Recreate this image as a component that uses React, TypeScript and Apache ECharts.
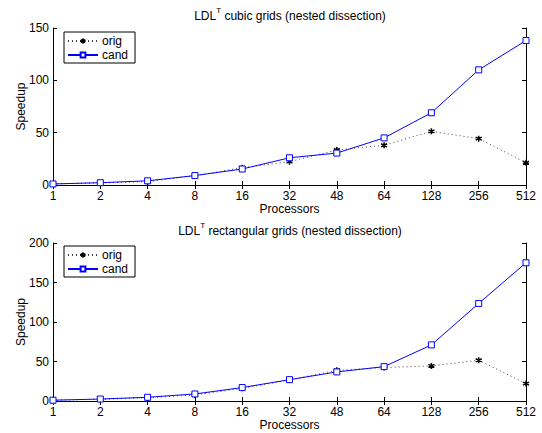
import React, { useEffect, useRef } from "react";
import * as echarts from "echarts";

const processors = ["1", "2", "4", "8", "16", "32", "48", "64", "128", "256", "512"];
const cubicOrig = [1, 2, 3.2, 9, 16.5, 22.3, 33.4, 38, 51.3, 44.3, 21.3];
const cubicCand = [1, 2.2, 4, 9, 15.3, 26, 30.5, 45, 69, 110, 138];
const rectOrig = [1, 2, 4.2, 7.6, 16, 26.6, 38.9, 42.3, 44.4, 51.6, 22];
const rectCand = [1, 2.5, 4.7, 8.9, 17, 27, 36.8, 43.5, 71, 123.5, 175];

const FONT = "Liberation Sans, Arial, Helvetica, sans-serif";
const ASTERISK = "path://M0,-5L0,5M-4.33,-2.5L4.33,2.5M-4.33,2.5L4.33,-2.5";

export default function App() {
  const ref = useRef<HTMLDivElement>(null);
  useEffect(() => {
    if (!ref.current) return;
    const chart = echarts.init(ref.current, undefined, { renderer: "svg" });
    const axisLine = { show: true, lineStyle: { color: "#000", width: 1 } };
    const tickIn = { show: true, inside: true, length: 4, lineStyle: { color: "#000" } };
    const label = { color: "#000", fontSize: 12, fontFamily: FONT };
    const xAxes: any[] = [];
    const yAxes: any[] = [];
    const maxes = [150, 200];
    [0, 1].forEach((g) => {
      xAxes.push({
        type: "category", gridIndex: g, data: processors, boundaryGap: false, position: "bottom",
        axisLine, axisTick: { ...tickIn, alignWithLabel: true }, axisLabel: { ...label, margin: 5, interval: 0 },
        splitLine: { show: false },
        name: "Processors", nameLocation: "middle", nameGap: 18,
        nameTextStyle: { color: "#000", fontSize: 12, fontFamily: FONT },
      });
      xAxes.push({
        type: "category", gridIndex: g, data: processors, boundaryGap: false, position: "top",
        axisLine, axisTick: { ...tickIn }, axisLabel: { show: false }, splitLine: { show: false },
      });
      yAxes.push({
        type: "value", gridIndex: g, min: 0, max: maxes[g], interval: 50, position: "left",
        axisLine, axisTick: tickIn, axisLabel: { ...label, margin: 4 }, splitLine: { show: false },
        name: "Speedup", nameLocation: "middle", nameGap: 26, nameMoveOverlap: false,
        nameTextStyle: { color: "#000", fontSize: 12, fontFamily: FONT },
      });
      yAxes.push({
        type: "value", gridIndex: g, min: 0, max: maxes[g], interval: 50, position: "right",
        axisLine, axisTick: tickIn, axisLabel: { show: false }, splitLine: { show: false },
      });
    });
    const origSeries = (data: number[], g: number) => ({
      name: "orig", type: "line", xAxisIndex: g * 2, yAxisIndex: g * 2, data,
      symbol: ASTERISK, symbolSize: 6,
      itemStyle: { color: "none", borderColor: "#000", borderWidth: 1.5 },
      lineStyle: { color: "#444", width: 1, type: [1, 3] },
      z: 2,
    });
    const candSeries = (data: number[], g: number) => ({
      name: "cand", type: "line", xAxisIndex: g * 2, yAxisIndex: g * 2, data,
      symbol: "rect", symbolSize: 6,
      itemStyle: { color: "#fff", borderColor: "#0000ff", borderWidth: 1 },
      lineStyle: { color: "#0000ff", width: 1 },
      z: 3,
    });
    const titleStyle = {
      rich: {
        a: { fontSize: 12, fontFamily: FONT, color: "#000", fontWeight: "normal", lineHeight: 14 },
        s: { fontSize: 8, fontFamily: FONT, color: "#000", fontWeight: "normal", verticalAlign: "top", lineHeight: 20 },
      },
    };
    const legendBase = {
      orient: "vertical", left: 64, itemWidth: 30, itemHeight: 6, itemGap: 0,
      padding: [2, 7, 1, 3], borderColor: "#000", borderWidth: 1, backgroundColor: "#fff",
      textStyle: { color: "#000", fontSize: 12, fontFamily: FONT, lineHeight: 14, padding: [0, 0, 0, -1] },
      data: ["orig", "cand"],
    };
    chart.setOption({
      animation: false,
      backgroundColor: "#fff",
      title: [
        { text: "{a|LDL}{s|T}{a| cubic grids (nested dissection)}", left: 290, textAlign: "center", top: 6, textStyle: titleStyle, padding: 0 },
        { text: "{a|LDL}{s|T}{a| rectangular grids (nested dissection)}", left: 290, textAlign: "center", top: 221, textStyle: titleStyle, padding: 0 },
      ],
      legend: [
        { ...legendBase, top: 32, seriesIndex: [0, 1] },
        { ...legendBase, top: 246 },
      ],
      grid: [
        { left: 53, right: 16, top: 28, height: 157 },
        { left: 53, right: 16, top: 243, height: 158 },
      ],
      xAxis: xAxes,
      yAxis: yAxes,
      series: [
        origSeries(cubicOrig, 0), candSeries(cubicCand, 0),
        origSeries(rectOrig, 1), candSeries(rectCand, 1),
      ],
    });
    return () => chart.dispose();
  }, []);
  return <div ref={ref} style={{ width: 542, height: 433, position: "absolute", left: 0, top: 0 }} />;
}
